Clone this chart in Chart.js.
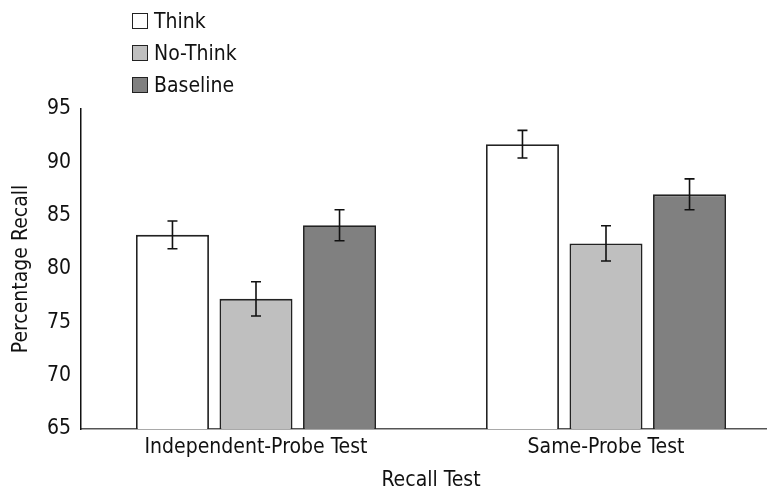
<!DOCTYPE html>
<html>
<head>
<meta charset="utf-8">
<script src="https://cdn.jsdelivr.net/npm/chart.js@4/dist/chart.umd.min.js"></script>
<style>
  html, body { margin: 0; padding: 0; background: #fff; overflow: hidden; }
  #wrap { position: relative; width: 781px; height: 489px; }
  #legend { position: absolute; left: 132px; top: 5px; font-family: "DejaVu Sans Condensed", sans-serif; font-size: 21px; color: #111; }
  #legend .item { display: flex; align-items: center; height: 32px; }
  #legend .box { width: 16px; height: 16px; border: 1.5px solid #222; margin-right: 6px; box-sizing: border-box; }
</style>
</head>
<body>
<div id="wrap">
  <canvas id="cv"></canvas>
  <div id="legend"></div>
</div>
<script>
// data
const categories = ["Independent-Probe Test", "Same-Probe Test"]
const seriesNames = ["Think", "No-Think", "Baseline"]
const thinkVals = [83.2, 91.7]
const noThinkVals = [77.2, 82.4]
const baselineVals = [84.1, 87.0]
const thinkErr = [1.3, 1.3]
const noThinkErr = [1.6, 1.65]
const baselineErr = [1.45, 1.45]
const yTicks = [65, 70, 75, 80, 85, 90, 95]

const FONT = '"DejaVu Sans Condensed", sans-serif'
const colors = ["#ffffff", "#bfbfbf", "#808080"]
const errs = [thinkErr, noThinkErr, baselineErr]

/**
 * Error bars drawn on top of each bar
 */
const errorBars = {
  id: 'errorBars',
  afterDatasetsDraw(chart) {
    const ctx = chart.ctx
    const y = chart.scales.y
    ctx.save()
    ctx.strokeStyle = '#111'
    ctx.lineWidth = 1.6
    chart.data.datasets.forEach((ds, i) => {
      chart.getDatasetMeta(i).data.forEach((bar, j) => {
        const v = ds.data[j], e = errs[i][j]
        const top = y.getPixelForValue(v + e)
        const bot = y.getPixelForValue(v - e)
        ctx.beginPath()
        ctx.moveTo(bar.x, top); ctx.lineTo(bar.x, bot)
        ctx.moveTo(bar.x - 5, top); ctx.lineTo(bar.x + 5, top)
        ctx.moveTo(bar.x - 5, bot); ctx.lineTo(bar.x + 5, bot)
        ctx.stroke()
      })
    })
    ctx.restore()
  }
}

chart = new Chart(document.getElementById('cv').getContext('2d'), {
  type: 'bar',
  data: {
    labels: categories,
    datasets: [thinkVals, noThinkVals, baselineVals].map((d, i) => ({
      label: seriesNames[i],
      data: d,
      backgroundColor: colors[i],
      borderColor: '#222',
      borderWidth: 1.8,
      borderSkipped: false,
      categoryPercentage: 0.716,
      barPercentage: 0.874
    }))
  },
  options: {
    responsive: true,
    maintainAspectRatio: false,
    animation: false,
    layout: { padding: { top: 109, left: 0, right: 0, bottom: -4 } },
    plugins: { legend: { display: false }, tooltip: { enabled: false } },
    scales: {
      x: {
        grid: { display: false, drawTicks: false },
        border: { color: '#555', width: 1.5 },
        ticks: { color: '#111', font: { family: FONT, size: 21 }, padding: 6 },
        title: { display: true, text: 'Recall Test', color: '#111', font: { family: FONT, size: 21 }, padding: { top: 4, bottom: 0 } },
        afterFit(scale) { scale.height = 64 }
      },
      y: {
        min: 65, max: 95,
        afterBuildTicks(scale) { scale.ticks = yTicks.map(v => ({ value: v })) },
        grid: { display: false, drawOnChartArea: false, drawTicks: true, tickLength: 5, color: '#111' },
        border: { color: '#111', width: 1.5 },
        ticks: { color: '#111', font: { family: FONT, size: 21 }, padding: 5 },
        title: { display: true, text: 'Percentage Recall', color: '#111', font: { family: FONT, size: 21 }, padding: { top: 9, bottom: 0 } },
        afterFit(scale) { scale.width = 81 }
      }
    }
  },
  plugins: [errorBars]
})

// legend as html, built from the chart datasets
const legendEl = document.getElementById('legend')
chart.data.datasets.forEach(ds => {
  const item = document.createElement('div')
  item.className = 'item'
  item.innerHTML = '<span class="box" style="background:' + ds.backgroundColor + '"></span><span>' + ds.label + '</span>'
  legendEl.appendChild(item)
})
</script>
</body>
</html>
